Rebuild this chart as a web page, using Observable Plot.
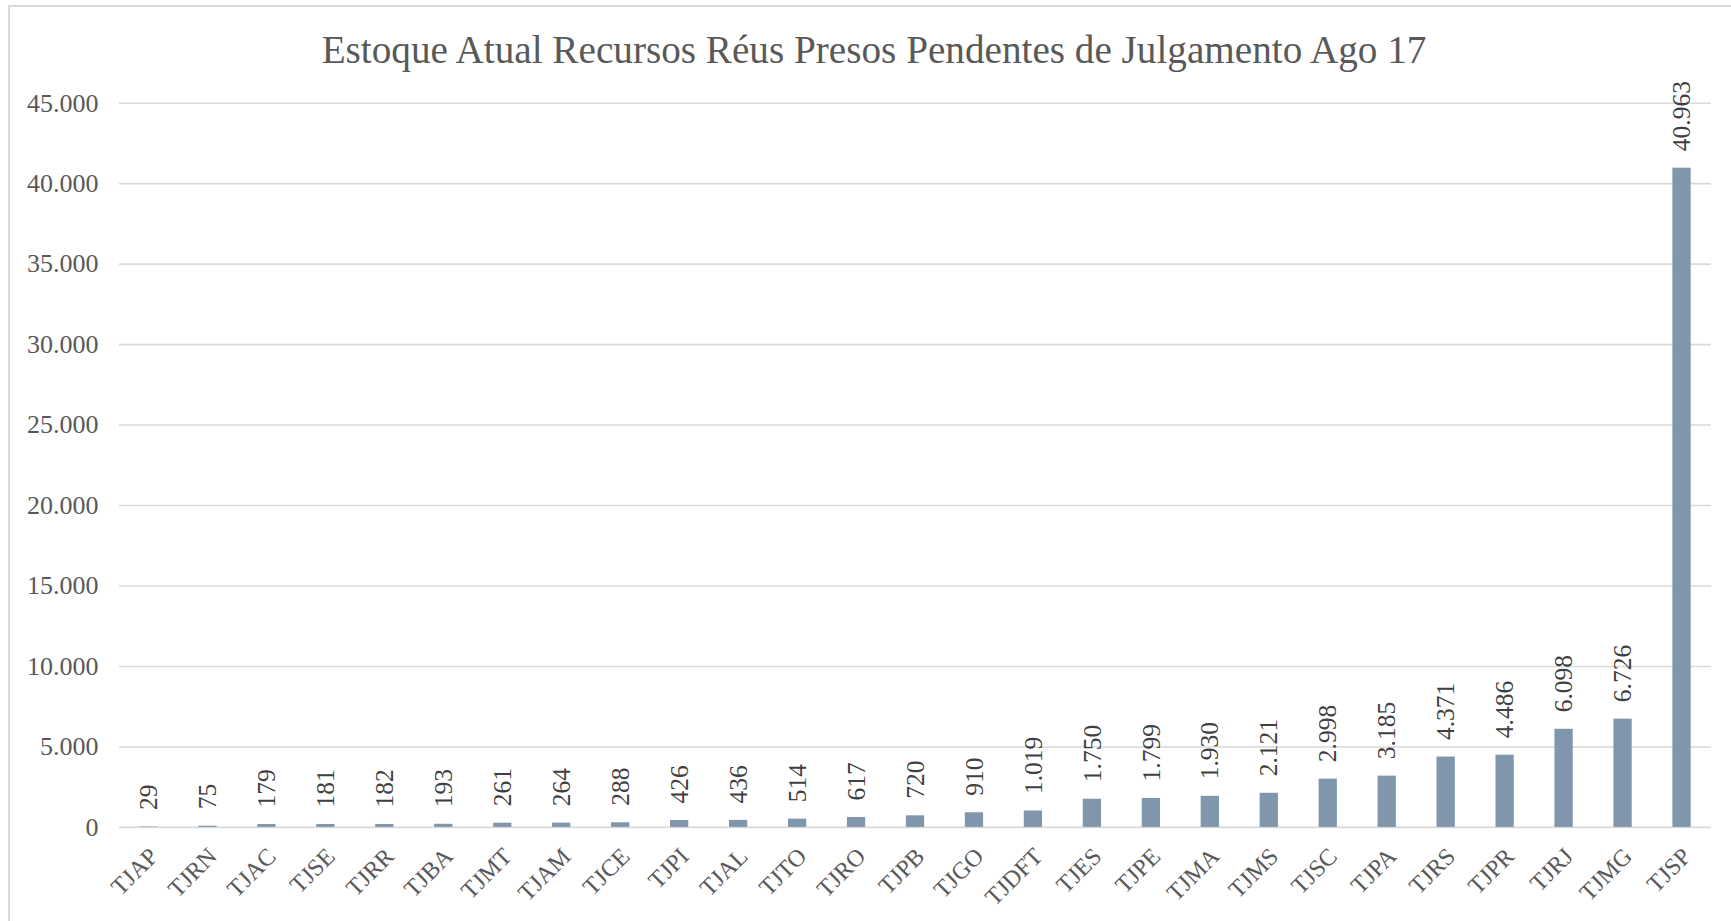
<!DOCTYPE html>
<html>
<head>
<meta charset="utf-8">
<script src="https://cdn.jsdelivr.net/npm/d3@7"></script>
<script src="https://cdn.jsdelivr.net/npm/@observablehq/plot@0.6"></script>
<style>
  html, body { margin: 0; padding: 0; background: #fff; overflow: hidden; width: 1731px; height: 921px; }
  #frame { position: absolute; left: 8px; top: 5px; width: 1800px; height: 1000px; border-left: 2px solid #D9D9D9; border-top: 2px solid #D9D9D9; box-sizing: border-box; z-index: 2; pointer-events: none; }
  #wrap { position: absolute; left: 0; top: 0; width: 1731px; z-index: 1; }
  #title { box-sizing: border-box; height: 90px; padding-top: 27px; padding-left: 17px; text-align: center; font-family: "Liberation Serif", serif; font-size: 39.2px; line-height: normal; color: #595959; white-space: nowrap; }
  svg { display: block; overflow: visible; }
</style>
</head>
<body>
<div id="wrap">
  <div id="title">Estoque Atual Recursos Réus Presos Pendentes de Julgamento Ago 17</div>
  <div id="chart"></div>
</div>
<div id="frame"></div>
<script>
const categories = ["TJAP","TJRN","TJAC","TJSE","TJRR","TJBA","TJMT","TJAM","TJCE","TJPI","TJAL","TJTO","TJRO","TJPB","TJGO","TJDFT","TJES","TJPE","TJMA","TJMS","TJSC","TJPA","TJRS","TJPR","TJRJ","TJMG","TJSP"];
const values = [29,75,179,181,182,193,261,264,288,426,436,514,617,720,910,1019,1750,1799,1930,2121,2998,3185,4371,4486,6098,6726,40963];
const yTicks = [0,5000,10000,15000,20000,25000,30000,35000,40000,45000];

const data = categories.map((c, i) => ({name: c, value: values[i]}));
const br = d3.formatLocale({decimal: ",", thousands: ".", grouping: [3], currency: ["R$", ""]});
const fmt = br.format(",d");
const font = "Liberation Serif, serif";

const chart = Plot.plot({
  width: 1731,
  height: 831,
  marginTop: 12.7,
  marginBottom: 94.1,
  marginLeft: 119,
  marginRight: 20,
  style: {fontFamily: font, background: "transparent", overflow: "visible"},
  x: {domain: categories, paddingInner: 0.69, paddingOuter: 0.345, round: false, label: null},
  y: {domain: [0, 45000], label: null},
  marks: [
    Plot.ruleY(yTicks, {stroke: "#D9D9D9", strokeWidth: 1.6}),
    Plot.barY(data, {x: "name", y: "value", fill: "#7F96AD"}),
    Plot.text(data, {x: "name", y: "value", text: d => fmt(d.value), rotate: -90, textAnchor: "start", dy: -17, fill: "#404040", fontSize: 25.5}),
    Plot.axisY({ticks: yTicks, tickFormat: fmt, tickSize: 0, tickPadding: 21, fontSize: 26, color: "#595959", label: null}),
    Plot.axisX({tickRotate: -45, tickSize: 0, tickPadding: 25, dx: 5, fontSize: 24, color: "#595959", label: null})
  ]
});
document.getElementById("chart").appendChild(chart);
</script>
</body>
</html>
